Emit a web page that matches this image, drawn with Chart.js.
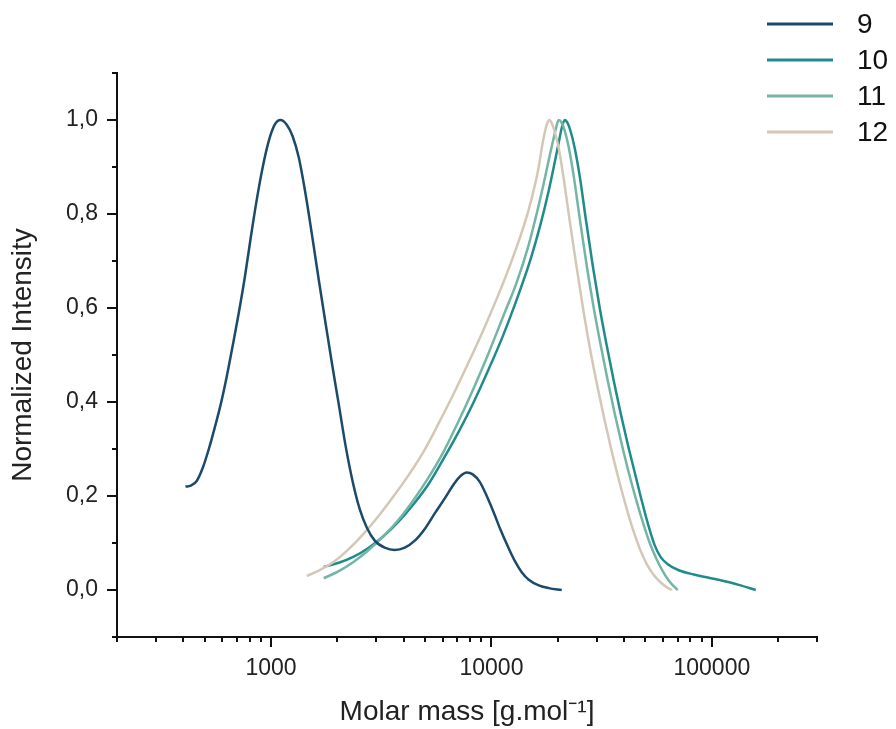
<!DOCTYPE html>
<html>
<head>
<meta charset="utf-8">
<script src="https://cdn.jsdelivr.net/npm/chart.js@4.4.1/dist/chart.umd.min.js"></script>
<style>
  html, body { margin: 0; padding: 0; background: #fff; }
  #chart { display: block; }
</style>
</head>
<body>
<canvas id="chart" width="896" height="729"></canvas>
<script>
// molar mass (g/mol) and normalized intensity
const mass9 = [409, 432, 460, 490, 522, 555, 591, 630, 670, 714, 760, 809, 861, 917, 976, 1039, 1103, 1178, 1254, 1336,
  1437, 1546, 1646, 1771, 1885, 2029, 2182, 2348, 2526, 2718, 2955, 3280, 3641, 4042, 4488, 4982, 5530, 6140, 6745, 7257,
  7726, 8226, 8850, 9521, 10240, 11020, 11860, 12760, 13720, 14770, 16390, 18200, 20840];
const int9 = [0.22, 0.222, 0.232, 0.26, 0.3, 0.345, 0.395, 0.455, 0.52, 0.59, 0.665, 0.75, 0.83, 0.9, 0.955, 0.99, 1.0, 0.99, 0.965, 0.92,
  0.84, 0.745, 0.66, 0.565, 0.485, 0.395, 0.305, 0.23, 0.172, 0.133, 0.105, 0.09, 0.085, 0.09, 0.105, 0.13, 0.163, 0.195, 0.225, 0.243,
  0.25, 0.246, 0.23, 0.2, 0.165, 0.127, 0.093, 0.062, 0.038, 0.022, 0.01, 0.004, 0.0];

const mass10 = [1734, 2029, 2373, 2775, 3246, 3797, 4441, 5195, 6076, 7107, 8313, 9723, 11370, 13300, 15080, 16740, 18200, 19370, 20200, 20840,
  21510, 22190, 22900, 23880, 25160, 26790, 28820, 31000, 33350, 35880, 38610, 41540, 44690, 48080, 51720, 55070, 58630, 63080, 70770, 82780,
  96820, 113200, 132400, 158200];
const int10 = [0.049, 0.058, 0.071, 0.09, 0.115, 0.146, 0.183, 0.226, 0.28, 0.337, 0.4, 0.47, 0.545, 0.63, 0.705, 0.78, 0.85, 0.91, 0.952, 0.983,
  1.0, 0.993, 0.975, 0.94, 0.88, 0.79, 0.69, 0.6, 0.52, 0.445, 0.375, 0.31, 0.25, 0.19, 0.135, 0.095, 0.07, 0.055, 0.042, 0.033,
  0.026, 0.019, 0.011, 0.0];

const mass11 = [1734, 2029, 2373, 2775, 3246, 3797, 4441, 5195, 6076, 7107, 8313, 9723, 11370, 13030, 14770, 16220, 17450, 18390, 19170, 19680,
  20200, 20840, 21510, 22420, 23630, 25160, 27060, 29120, 31330, 33710, 36260, 39010, 41970, 45160, 48580, 52270, 56230, 59870, 63740, 67160,
  70030];
const int11 = [0.025, 0.04, 0.06, 0.085, 0.115, 0.15, 0.192, 0.24, 0.295, 0.36, 0.43, 0.505, 0.585, 0.655, 0.735, 0.81, 0.875, 0.925, 0.962, 0.985,
  1.0, 0.994, 0.977, 0.942, 0.88, 0.79, 0.69, 0.6, 0.52, 0.445, 0.375, 0.31, 0.25, 0.195, 0.145, 0.1, 0.065, 0.04, 0.02, 0.008,
  0.0];

const mass12 = [1452, 1646, 1925, 2252, 2634, 3081, 3603, 4215, 4930, 5766, 6745, 7889, 9228, 10790, 12230, 13580, 14770, 15720, 16390, 16910,
  17360, 17820, 18290, 18780, 19370, 20200, 21280, 22660, 24380, 26230, 28220, 30360, 32660, 35140, 37810, 40680, 43760, 47090, 50660, 54500,
  58630, 62430, 65780];
const int12 = [0.03, 0.041, 0.06, 0.087, 0.12, 0.158, 0.2, 0.245, 0.295, 0.355, 0.418, 0.485, 0.555, 0.63, 0.695, 0.755, 0.81, 0.86, 0.9, 0.94,
  0.968, 0.99, 1.0, 0.993, 0.975, 0.94, 0.875, 0.785, 0.685, 0.59, 0.505, 0.43, 0.36, 0.295, 0.235, 0.18, 0.13, 0.088, 0.055, 0.032,
  0.016, 0.006, 0.0];

const seriesLabels = ["9", "10", "11", "12"];
const seriesColors = ["#1c4a6a", "#1f8c8b", "#74b5a5", "#d5c7b5"];

// axis ticks
const xMajorTicks = [1000, 10000, 100000];
const xTicks = [200, 300, 400, 500, 600, 700, 800, 900,
  1000, 2000, 3000, 4000, 5000, 6000, 7000, 8000, 9000,
  10000, 20000, 30000, 40000, 50000, 60000, 70000, 80000, 90000,
  100000, 200000, 300000];
const yTicks = [-0.1, 0, 0.1, 0.2, 0.3, 0.4, 0.5, 0.6, 0.7, 0.8, 0.9, 1.0, 1.1];
const yTickLabels = ["", "0,0", "", "0,2", "", "0,4", "", "0,6", "", "0,8", "", "1,0", ""];

const fontFamily = "'Liberation Sans', Arial, sans-serif";

function pairs(xs, ys) {
  return xs.map((x, i) => ({ x: x, y: ys[i] }));
}

const allMass = [mass9, mass10, mass11, mass12];
const allInt = [int9, int10, int11, int12];

const datasets = seriesLabels.map((label, i) => ({
  label: label,
  data: pairs(allMass[i], allInt[i]),
  borderColor: seriesColors[i],
  backgroundColor: seriesColors[i],
  borderWidth: 2.5,
  pointRadius: 0,
  cubicInterpolationMode: "monotone",
  fill: false,
  order: i == 0 ? 0 : 4 - i,
}));

// tick marks drawn by hand so majors and minors get different lengths
const tickMarks = {
  id: "tickMarks",
  afterDraw(chart) {
    const ctx = chart.ctx;
    const xs = chart.scales.x;
    const ys = chart.scales.y;
    ctx.save();
    ctx.strokeStyle = "#111";
    ctx.lineWidth = 2;
    ctx.beginPath();
    xTicks.forEach(v => {
      const px = Math.round(xs.getPixelForValue(v));
      const len = xMajorTicks.includes(v) ? 10 : 5;
      ctx.moveTo(px, xs.top);
      ctx.lineTo(px, xs.top + len);
    });
    yTicks.forEach((v, i) => {
      const py = Math.round(ys.getPixelForValue(v));
      const len = yTickLabels[i] ? 10 : 5;
      ctx.moveTo(ys.right, py);
      ctx.lineTo(ys.right - len, py);
    });
    ctx.stroke();
    ctx.restore();
  }
};

const sideLegend = {
  id: "sideLegend",
  afterDraw(chart) {
    const ctx = chart.ctx;
    ctx.save();
    ctx.font = "28px " + fontFamily;
    ctx.textBaseline = "middle";
    ctx.textAlign = "left";
    chart.data.datasets.forEach((ds, i) => {
      const y = 24 + i * 36;
      ctx.strokeStyle = ds.borderColor;
      ctx.lineWidth = 3;
      ctx.beginPath();
      ctx.moveTo(767, y);
      ctx.lineTo(833, y);
      ctx.stroke();
      ctx.fillStyle = "#111";
      ctx.fillText(ds.label, 857, y + 1);
    });
    ctx.restore();
  }
};

const config = {
  type: "line",
  data: { datasets: datasets },
  options: {
    responsive: false,
    animation: false,
    layout: { padding: { left: 0, right: 79, top: 73, bottom: 0 } },
    plugins: {
      legend: { display: false },
      tooltip: { enabled: false },
    },
    scales: {
      x: {
        type: "logarithmic",
        min: 200,
        max: 300000,
        afterBuildTicks: s => { s.ticks = xTicks.map(v => ({ value: v })); },
        afterFit: s => { s.height = 92; },
        grid: { display: true, drawOnChartArea: false, drawTicks: false },
        border: { display: true, color: "#111", width: 2 },
        ticks: {
          autoSkip: false,
          maxRotation: 0,
          padding: 18,
          color: "#222",
          font: { size: 23, family: fontFamily },
          callback: v => xMajorTicks.includes(v) ? String(v) : "",
        },
        title: {
          display: true,
          text: "Molar mass [g.mol⁻¹]",
          color: "#222",
          font: { size: 28, family: fontFamily },
          padding: { top: 0, bottom: 0 },
        },
      },
      y: {
        min: -0.1,
        max: 1.1,
        afterBuildTicks: s => { s.ticks = yTicks.map(v => ({ value: v })); },
        afterFit: s => { s.width = 117; },
        grid: { display: true, drawOnChartArea: false, drawTicks: false },
        border: { display: true, color: "#111", width: 2 },
        ticks: {
          padding: 19,
          color: "#222",
          font: { size: 23, family: fontFamily },
          callback: (v, i) => yTickLabels[i],
        },
        title: {
          display: true,
          text: "Normalized Intensity",
          color: "#222",
          font: { size: 28, family: fontFamily },
          padding: { top: 6, bottom: 0 },
        },
      },
    },
  },
  plugins: [tickMarks, sideLegend],
};

new Chart(document.getElementById("chart"), config);
</script>
</body>
</html>
